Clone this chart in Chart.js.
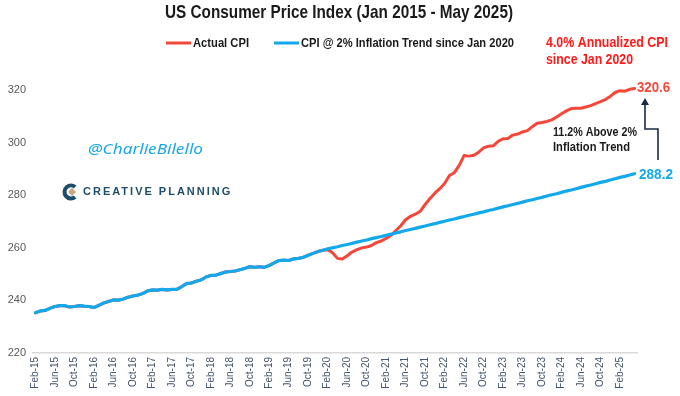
<!DOCTYPE html>
<html>
<head>
<meta charset="utf-8">
<script src="https://cdn.jsdelivr.net/npm/chart.js@4.4.1/dist/chart.umd.min.js"></script>
<style>
  html, body { margin: 0; padding: 0; background: #ffffff; }
  #wrap { position: relative; width: 680px; height: 396px; }
</style>
</head>
<body>
<div id="wrap"><canvas id="c" width="680" height="396"></canvas></div>
<script>
// ---- Data (monthly, Feb 2015 – May 2025) ----
const monthNames = ['Jan','Feb','Mar','Apr','May','Jun','Jul','Aug','Sep','Oct','Nov','Dec'];
const categories = [];
for (let i = 0; i < 124; i++) {
  const mi = (1 + i) % 12;
  const yr = 2015 + Math.floor((1 + i) / 12);
  categories.push(monthNames[mi] + '-' + String(yr).slice(2));
}

const actualCPI = [
  235.3, 236.0, 236.2, 237.0, 237.7, 238.0, 238.0, 237.5, 237.7, 238.0, 237.8,
  237.7, 237.3, 238.1, 239.0, 239.6, 240.2, 240.1, 240.5, 241.2, 241.7, 242.0, 242.6,
  243.6, 244.0, 243.9, 244.2, 244.0, 244.2, 244.2, 245.2, 246.4, 246.6, 247.3, 247.8,
  248.9, 249.5, 249.6, 250.2, 250.8, 251.0, 251.2, 251.7, 252.2, 252.8, 252.6, 252.8,
  252.6, 253.3, 254.3, 255.2, 255.3, 255.2, 255.8, 256.0, 256.4, 257.2, 257.9, 258.6,
  259.1, 259.3, 258.1, 256.0, 255.8, 257.0, 258.4, 259.3, 260.0, 260.3, 260.9, 262.0,
  262.6, 263.6, 264.8, 266.6, 268.4, 270.7, 272.0, 272.8, 273.9, 276.5, 278.8, 280.8,
  282.5, 284.5, 287.5, 288.6, 291.4, 295.1, 294.9, 295.2, 296.4, 298.0, 298.7, 298.8,
  300.5, 301.5, 301.6, 302.9, 303.3, 304.1, 304.6, 306.1, 307.4, 307.7, 308.1, 308.7,
  309.8, 311.0, 312.1, 313.0, 313.1, 313.1, 313.6, 314.1, 314.9, 315.6, 316.4, 317.6,
  319.1, 319.8, 319.6, 320.3, 320.6
];
// 2% trend from Jan 2020 to May 2025
const trendSince2020 = [
  259.1, 259.6, 260.0, 260.4, 260.9, 261.3, 261.7, 262.2, 262.6, 263.0, 263.5, 263.9,
  264.3, 264.8, 265.2, 265.7, 266.1, 266.6, 267.0, 267.4, 267.9, 268.3, 268.8, 269.2,
  269.7, 270.1, 270.6, 271.0, 271.5, 271.9, 272.4, 272.8, 273.3, 273.7, 274.2, 274.6,
  275.1, 275.6, 276.0, 276.5, 276.9, 277.4, 277.9, 278.3, 278.8, 279.2, 279.7, 280.2,
  280.6, 281.1, 281.6, 282.0, 282.5, 283.0, 283.5, 283.9, 284.4, 284.9, 285.3, 285.8,
  286.3, 286.8, 287.2, 287.7, 288.2
];
const trendCPI = actualCPI.slice(0, 59).concat(trendSince2020);
const yTickValues = [220, 240, 260, 280, 300, 320];

const RED = '#F4473A';
const BLUE = '#12A8EC';
const NAVY = '#1B2A47';
const SANS = '"Liberation Sans", Arial, sans-serif';

// draw text squeezed horizontally to a given width (left edge x, or center if align = 'center')
function fitText(ctx, text, x, y, width, align) {
  const w = ctx.measureText(text).width;
  const sx = width / w;
  ctx.save();
  ctx.textAlign = 'left';
  ctx.translate(align === 'center' ? x - width / 2 : x, y);
  ctx.scale(sx, 1);
  ctx.fillText(text, 0, 0);
  ctx.restore();
}

const overlay = {
  id: 'overlay',
  afterDraw(chart) {
    const ctx = chart.ctx;
    ctx.save();
    ctx.textBaseline = 'middle';
    // Title
    ctx.fillStyle = '#1a1a1a';
    ctx.font = 'bold 19px ' + SANS;
    fitText(ctx, 'US Consumer Price Index (Jan 2015 - May 2025)', 339, 13, 348, 'center');

    // Legend
    ctx.font = 'bold 13px ' + SANS;
    ctx.lineWidth = 3;
    ctx.lineCap = 'butt';
    ctx.strokeStyle = RED;
    ctx.beginPath(); ctx.moveTo(166, 43); ctx.lineTo(191, 43); ctx.stroke();
    ctx.fillStyle = '#1a1a1a';
    fitText(ctx, 'Actual CPI', 193, 43, 56);
    ctx.strokeStyle = BLUE;
    ctx.beginPath(); ctx.moveTo(274, 43); ctx.lineTo(299, 43); ctx.stroke();
    fitText(ctx, 'CPI @ 2% Inflation Trend since Jan 2020', 301, 43, 213);

    // Red annotation
    ctx.fillStyle = '#FF1A1A';
    ctx.font = 'bold 14.5px ' + SANS;
    fitText(ctx, '4.0% Annualized CPI', 546, 43, 122);
    fitText(ctx, 'since Jan 2020', 546, 60, 87);

    // End labels
    ctx.font = 'bold 15px ' + SANS;
    ctx.fillStyle = RED;
    fitText(ctx, '320.6', 637, 88, 33);
    ctx.fillStyle = BLUE;
    fitText(ctx, '288.2', 639, 175, 34);

    // Gap annotation
    ctx.fillStyle = '#1a1a1a';
    ctx.font = 'bold 13px ' + SANS;
    fitText(ctx, '11.2% Above 2%', 553, 132, 84);
    fitText(ctx, 'Inflation Trend', 553, 147, 77);

    // Arrow
    ctx.strokeStyle = NAVY;
    ctx.lineWidth = 1.6;
    ctx.lineCap = 'butt';
    ctx.beginPath();
    ctx.moveTo(658, 160); ctx.lineTo(658, 129); ctx.lineTo(645, 129); ctx.lineTo(645, 104);
    ctx.stroke();
    ctx.fillStyle = NAVY;
    ctx.beginPath();
    ctx.moveTo(645, 98); ctx.lineTo(641, 105); ctx.lineTo(649, 105); ctx.closePath();
    ctx.fill();

    // Watermark
    ctx.fillStyle = '#1AA6EA';
    ctx.font = 'italic 15px "Noto Sans", "DejaVu Sans", sans-serif';
    fitText(ctx, '@CharlieBilello', 88, 150, 115);

    // Logo
    const cx = 71, cy = 192;
    ctx.strokeStyle = '#1E4D6B';
    ctx.lineWidth = 4;
    ctx.beginPath();
    ctx.arc(cx, cy, 6.5, Math.PI * 0.28, Math.PI * 1.72, false);
    ctx.stroke();
    ctx.fillStyle = '#C9A97A';
    ctx.beginPath();
    ctx.moveTo(cx + 1, cy - 4); ctx.lineTo(cx + 5, cy); ctx.lineTo(cx + 1, cy + 4); ctx.lineTo(cx - 3, cy);
    ctx.closePath(); ctx.fill();
    ctx.fillStyle = '#1E4D6B';
    ctx.font = 'bold 11px ' + SANS;
    ctx.textAlign = 'left';
    if ('letterSpacing' in ctx) ctx.letterSpacing = '2px';
    ctx.fillText('CREATIVE PLANNING', 83, 192);
    ctx.restore();
  }
};

new Chart(document.getElementById('c'), {
  type: 'line',
  data: {
    labels: categories,
    datasets: [
      { label: 'CPI @ 2% Inflation Trend since Jan 2020', data: trendCPI, borderColor: BLUE,
        borderWidth: 3.2, pointRadius: 0, tension: 0, order: 1, borderCapStyle: 'round', borderJoinStyle: 'round' },
      { label: 'Actual CPI', data: actualCPI, borderColor: RED,
        borderWidth: 3, pointRadius: 0, tension: 0, order: 2, borderCapStyle: 'round', borderJoinStyle: 'round' }
    ]
  },
  options: {
    responsive: false,
    devicePixelRatio: 1,
    animation: false,
    layout: { padding: { left: 0, right: 43, top: 77, bottom: 0 } },
    plugins: { legend: { display: false }, title: { display: false }, tooltip: { enabled: false } },
    scales: {
      x: {
        type: 'category',
        offset: true,
        grid: { display: false, drawTicks: false },
        border: { display: true, color: '#D9D9D9', width: 1.5 },
        ticks: {
          autoSkip: false, maxRotation: 90, minRotation: 90, padding: 4,
          color: '#44546A',
          font: { family: SANS, size: 10 },
          callback: function(v, i) { return i % 4 === 0 ? categories[i] : null; }
        },
        afterFit: s => { s.height = 43; }
      },
      y: {
        min: 220, max: 325,
        grid: { display: false, drawTicks: false },
        border: { display: false },
        afterBuildTicks: s => { s.ticks = yTickValues.map(v => ({ value: v })); },
        ticks: {
          padding: 7, color: '#595959',
          font: { family: SANS, size: 11 }
        },
        afterFit: s => { s.width = 33; }
      }
    }
  },
  plugins: [overlay]
});
</script>
</body>
</html>
